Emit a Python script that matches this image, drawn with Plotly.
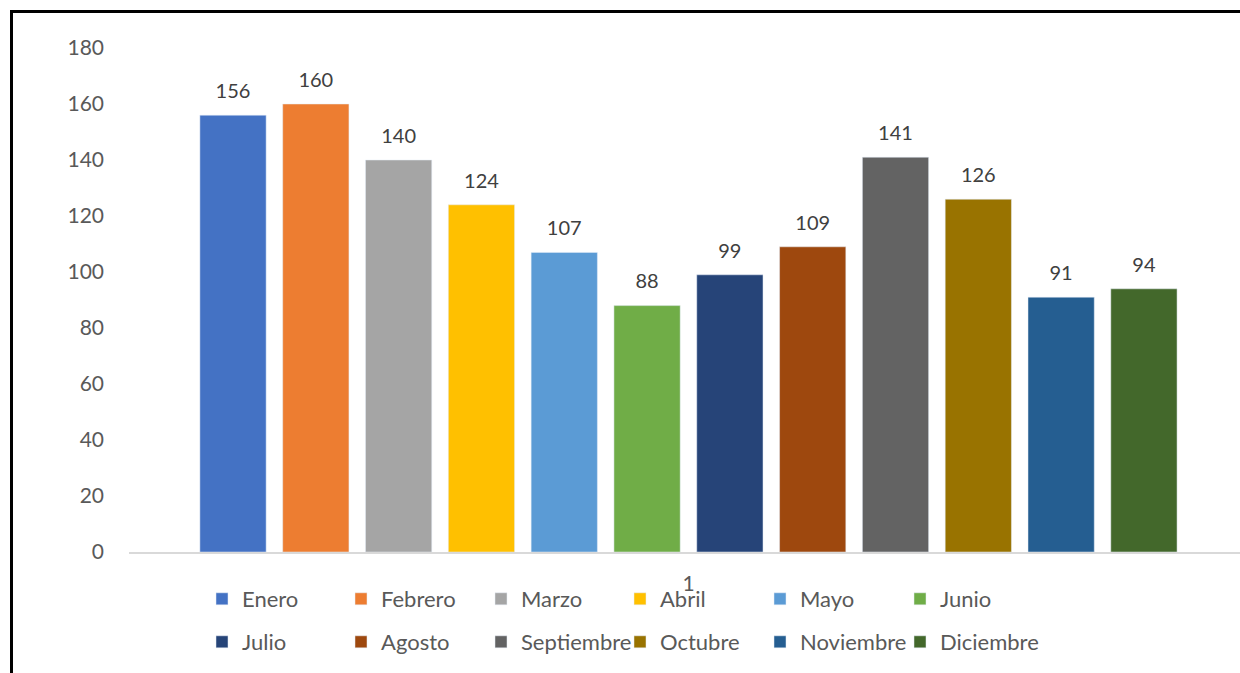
import plotly.graph_objects as go

months = ["Enero", "Febrero", "Marzo", "Abril", "Mayo", "Junio",
          "Julio", "Agosto", "Septiembre", "Octubre", "Noviembre", "Diciembre"]
values = [156, 160, 140, 124, 107, 88, 99, 109, 141, 126, 91, 94]
colors = ["#4472C4", "#ED7D31", "#A5A5A5", "#FFC000", "#5B9BD5", "#70AD47",
          "#264478", "#9E480E", "#636363", "#997300", "#255E91", "#43682B"]
category_label = ["1"]
y_ticks = list(range(0, 181, 20))

W, H = 1240, 673
L, T, B = 129, 48, 121
PW, PH = W - L, H - T - B
FONT = "Lato, 'Open Sans', sans-serif"


def px_x(px):
    return (px - L) / PW


def px_y(py):
    return (H - B - py) / PH


# legend layout (pixel positions of legend text start, row centers)
legend_text_x = [239, 378, 518, 657, 797, 937]
legend_row_y = [599, 642]

fig = go.Figure()
positions = list(range(len(months)))
for i, (m, v, c) in enumerate(zip(months, values, colors)):
    col, row = i % 6, i // 6
    lname = "legend" if i == 0 else f"legend{i+1}"
    fig.add_trace(go.Bar(
        x=[positions[i]], y=[v], name=m, marker_color=c, width=0.8,
        legend=lname, showlegend=True,
    ))
    fig.update_layout(**{lname: dict(
        xref="paper", yref="paper",
        x=px_x(legend_text_x[col] - 37), y=px_y(legend_row_y[row]),
        xanchor="left", yanchor="middle",
        font=dict(family=FONT, size=22, color="#595959"),
        bgcolor="rgba(0,0,0,0)", borderwidth=0,
    )})

fig.add_trace(go.Scatter(
    x=positions, y=values, mode="markers+text",
    text=[str(v) for v in values], textposition="top center",
    marker=dict(size=18, color="rgba(0,0,0,0)"),
    textfont=dict(family=FONT, size=20, color="#404040"),
    showlegend=False, cliponaxis=False, hoverinfo="skip",
))

fig.update_layout(
    width=W, height=H,
    margin=dict(l=L, r=0, t=T, b=B),
    plot_bgcolor="white", paper_bgcolor="white",
    barmode="overlay",
    xaxis=dict(
        range=[-1.256, 12.16],
        tickvals=[5.5], ticktext=category_label,
        showgrid=False, zeroline=False,
        showline=True, linecolor="#D9D9D9", linewidth=2,
        tickfont=dict(family=FONT, size=21, color="#595959"),
        ticks="", ticklabelstandoff=12,
    ),
    yaxis=dict(
        range=[0, 180], tickvals=y_ticks,
        showgrid=False, zeroline=False, showline=False,
        tickfont=dict(family=FONT, size=21, color="#595959"),
        ticks="", ticklabelstandoff=24,
    ),
    shapes=[
        dict(type="line", xref="paper", yref="paper",
             x0=px_x(11.5), x1=px_x(11.5),
             y0=px_y(10), y1=px_y(680),
             line=dict(color="black", width=3)),
        dict(type="line", xref="paper", yref="paper",
             x0=px_x(10), x1=px_x(1250),
             y0=px_y(11.5), y1=px_y(11.5),
             line=dict(color="black", width=3)),
    ],
)

fig.write_html("out.html", config={"displayModeBar": False},
               post_script="document.body.style.margin='0';")
